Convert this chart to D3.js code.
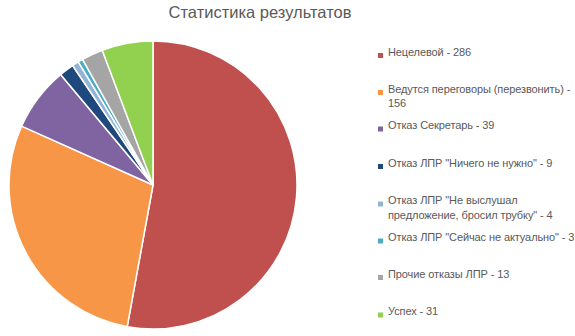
<!DOCTYPE html>
<html>
<head>
<meta charset="utf-8">
<script src="https://cdn.jsdelivr.net/npm/d3@7"></script>
<style>
  html, body { margin: 0; padding: 0; background: #fff; }
  svg { display: block; }
  text { font-family: "Liberation Sans", Arial, sans-serif; }
</style>
</head>
<body>
<svg id="chart" width="575" height="336"></svg>
<script>
// Results by outcome category
const categories = [
  "Нецелевой",
  "Ведутся переговоры (перезвонить)",
  "Отказ Секретарь",
  "Отказ ЛПР \"Ничего не нужно\"",
  "Отказ ЛПР \"Не выслушал предложение, бросил трубку\"",
  "Отказ ЛПР \"Сейчас не актуально\"",
  "Прочие отказы ЛПР",
  "Успех"
];
const values = [286, 156, 39, 9, 4, 3, 13, 31];
const colors = ["#C0504D", "#F79646", "#8064A2", "#1F497D", "#95B3D7", "#4BACC6", "#A5A5A5", "#92D050"];
const title = "Статистика результатов";

const svg = d3.select("#chart");
const data = categories.map((c, i) => ({ name: c, value: values[i], color: colors[i] }));

// Title
svg.append("text")
  .attr("x", 260)
  .attr("y", 18)
  .attr("text-anchor", "middle")
  .attr("font-size", 16.5)
  .attr("fill", "#595959")
  .text(title);

// Pie
const cx = 153, cy = 185, r = 144;
const pie = d3.pie().value(d => d.value).sort(null);
const arc = d3.arc().innerRadius(0).outerRadius(r);

svg.append("g")
  .attr("transform", `translate(${cx},${cy})`)
  .selectAll("path")
  .data(pie(data))
  .join("path")
  .attr("d", arc)
  .attr("fill", d => d.data.color)
  .attr("stroke", "#fff")
  .attr("stroke-width", 1.5)
  .attr("stroke-linejoin", "round");

// Legend
const legendY = [55.5, 92.5, 129, 166.5, 204, 241, 277.5, 315];
const lineH = 14.5;
const maxW = 187;
const legend = svg.append("g")
  .attr("font-size", 11)
  .attr("letter-spacing", -0.1)
  .attr("fill", "#595959");

data.forEach((d, i) => {
  const y = legendY[i];
  legend.append("rect")
    .attr("x", 378)
    .attr("y", y - 2.5)
    .attr("width", 5)
    .attr("height", 5)
    .attr("fill", d.color);

  const label = `${d.name} - ${d.value}`;
  const t = legend.append("text")
    .attr("x", 388)
    .attr("y", y)
    .attr("dy", "0.35em");
  // word wrap to legend width
  const words = label.split(" ");
  let line = [];
  let tspan = t.append("tspan").attr("x", 388).attr("dy", 0);
  words.forEach(w => {
    line.push(w);
    tspan.text(line.join(" "));
    if (tspan.node().getComputedTextLength() > maxW && line.length > 1) {
      line.pop();
      tspan.text(line.join(" "));
      line = [w];
      tspan = t.append("tspan").attr("x", 388).attr("dy", lineH).text(w);
    }
  });
});
</script>
</body>
</html>
